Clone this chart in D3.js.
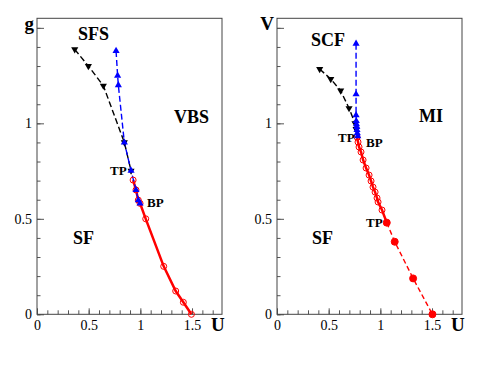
<!DOCTYPE html>
<html>
<head>
<meta charset="utf-8">
<script src="https://cdn.jsdelivr.net/npm/d3@7/dist/d3.min.js"></script>
<style>
	body { margin: 0; background: #fff; }
	svg text { font-family: "Liberation Serif", "Times New Roman", serif; }
</style>
</head>
<body>
<div id="chart"></div>
<script>
// phase diagram data: [U, g] or [U, V]
const gBlack = [[0.365, 1.387], [0.497, 1.30], [0.642, 1.197], [0.845, 0.90], [0.91, 0.752]];
const gBlue = [[0.765, 1.379], [0.78, 1.25], [0.787, 1.20], [0.845, 0.90], [0.91, 0.752],
	[0.958, 0.651], [0.98, 0.598], [0.997, 0.581]];
const gRed = [[0.93, 0.703], [0.958, 0.651], [0.98, 0.598], [0.997, 0.581], [1.052, 0.50],
	[1.226, 0.251], [1.342, 0.122], [1.416, 0.063], [1.494, 0]];

const vBlack = [[0.413, 1.284], [0.52, 1.232], [0.616, 1.171], [0.697, 1.079], [0.755, 1.0], [0.765, 0.97]];
const vBlue = [[0.765, 1.417], [0.765, 1.152], [0.765, 1.043], [0.767, 1.012], [0.769, 0.996],
	[0.772, 0.981], [0.774, 0.965], [0.777, 0.949], [0.781, 0.933]];
const vRed = [[0.774, 0.928], [0.784, 0.902], [0.794, 0.876], [0.813, 0.85], [0.833, 0.808],
	[0.862, 0.766], [0.891, 0.729], [0.91, 0.698], [0.929, 0.666], [0.949, 0.64], [0.968, 0.609],
	[0.978, 0.588], [1.016, 0.546], [1.062, 0.48]];
const vRedDash = [[1.062, 0.48], [1.139, 0.38], [1.317, 0.188], [1.504, 0]];

const xMajor = [0, 0.5, 1, 1.5];
const yMajor = [0, 0.5, 1, 1.5];

const W = 479, H = 370;
const svg = d3.select('#chart').append('svg')
	.attr('width', W)
	.attr('height', H);

const fmt = d => d === 1.5 ? '' : String(d);

function panel(left, yName, labels, draw) {
	const x = d3.scaleLinear().domain([0, 1.79]).range([left, left + 185]);
	const y = d3.scaleLinear().domain([0, 1.55]).range([314.3, 18.3]);
	const g = svg.append('g');

	// minor ticks
	g.append('g')
		.attr('transform', `translate(${left},0)`)
		.call(d3.axisLeft(y).tickValues(d3.range(0, 1.55, 0.1)).tickSize(-3.5).tickFormat(''))
		.call(a => a.select('.domain').remove());
	g.append('g')
		.attr('transform', 'translate(0,314.3)')
		.call(d3.axisBottom(x).tickValues(d3.range(0, 1.75, 0.1)).tickSize(-4).tickFormat(''))
		.call(a => a.select('.domain').remove());

	// major ticks + labels
	g.append('g')
		.attr('transform', `translate(${left},0)`)
		.call(d3.axisLeft(y).tickValues(yMajor).tickSize(-7).tickPadding(5).tickFormat(fmt))
		.call(a => a.select('.domain').remove())
		.call(a => a.selectAll('text').attr('font-size', 14).attr('fill', '#000')
			.style('font-family', '"Liberation Serif", serif'));
	g.append('g')
		.attr('transform', 'translate(0,314.3)')
		.call(d3.axisBottom(x).tickValues(xMajor).tickSize(-6).tickPadding(6)
			.tickFormat(d => String(d)))
		.call(a => a.select('.domain').remove())
		.call(a => a.selectAll('text').attr('font-size', 14).attr('fill', '#000')
			.style('font-family', '"Liberation Serif", serif'));

	g.selectAll('.tick line').attr('stroke', '#555');

	// frame
	g.append('rect')
		.attr('x', left).attr('y', 18.3)
		.attr('width', 185).attr('height', 296)
		.attr('fill', 'none').attr('stroke', '#444').attr('stroke-width', 1);

	// axis names
	g.append('text').attr('x', left - 3).attr('y', 30).attr('text-anchor', 'end')
		.attr('font-size', 19).attr('font-weight', 'bold').text(yName);
	g.append('text').attr('x', left + 174).attr('y', 331)
		.attr('font-size', 19).attr('font-weight', 'bold').text('U');

	draw(g, x, y);

	labels.forEach(l => {
		g.append('text')
			.attr('x', left + l[1]).attr('y', l[2])
			.attr('font-size', l[3]).attr('font-weight', 'bold')
			.text(l[0]);
	});
}

function path(g, x, y, data, color, width, dash) {
	g.append('path')
		.datum(data)
		.attr('d', d3.line().x(d => x(d[0])).y(d => y(d[1])))
		.attr('fill', 'none')
		.attr('stroke', color)
		.attr('stroke-width', width)
		.attr('stroke-dasharray', dash);
}

function triangles(g, x, y, data, color, down) {
	g.selectAll(null)
		.data(data)
		.enter().append('path')
		.attr('d', d3.symbol(d3.symbolTriangle, 22))
		.attr('transform', d => `translate(${x(d[0])},${y(d[1])}) rotate(${down ? 180 : 0})`)
		.attr('fill', color);
}

function circles(g, x, y, data, filled) {
	g.selectAll(null)
		.data(data)
		.enter().append('circle')
		.attr('cx', d => x(d[0]))
		.attr('cy', d => y(d[1]))
		.attr('r', filled ? 3.5 : 3)
		.attr('fill', filled ? 'red' : 'none')
		.attr('stroke', 'red')
		.attr('stroke-width', 1);
}

panel(37, 'g',
	[['SFS', 41, 40, 18], ['VBS', 137, 123, 18], ['TP', 73, 175, 13], ['BP', 110, 207, 13], ['SF', 36, 244, 18]],
	(g, x, y) => {
		path(g, x, y, gRed, 'red', 2.5, null);
		path(g, x, y, gBlack, '#000', 1.4, '6,3');
		path(g, x, y, gBlue, 'blue', 1.4, '6,3');
		circles(g, x, y, gRed, false);
		triangles(g, x, y, gBlack, '#000', true);
		triangles(g, x, y, gBlue, 'blue', false);
	});

panel(277, 'V',
	[['SCF', 34, 46, 18], ['MI', 142, 122, 18], ['TP', 61, 142, 13], ['BP', 89, 147, 13], ['TP', 89, 227, 13], ['SF', 35, 244, 18]],
	(g, x, y) => {
		path(g, x, y, vRed, 'red', 2.5, null);
		path(g, x, y, vRedDash, 'red', 1.4, '5,3');
		path(g, x, y, vBlack, '#000', 1.4, '6,3');
		path(g, x, y, vBlue, 'blue', 1.4, '6,3');
		circles(g, x, y, vRed.slice(0, -1), false);
		circles(g, x, y, vRedDash, true);
		triangles(g, x, y, vBlack, '#000', true);
		triangles(g, x, y, vBlue, 'blue', false);
	});
</script>
</body>
</html>
